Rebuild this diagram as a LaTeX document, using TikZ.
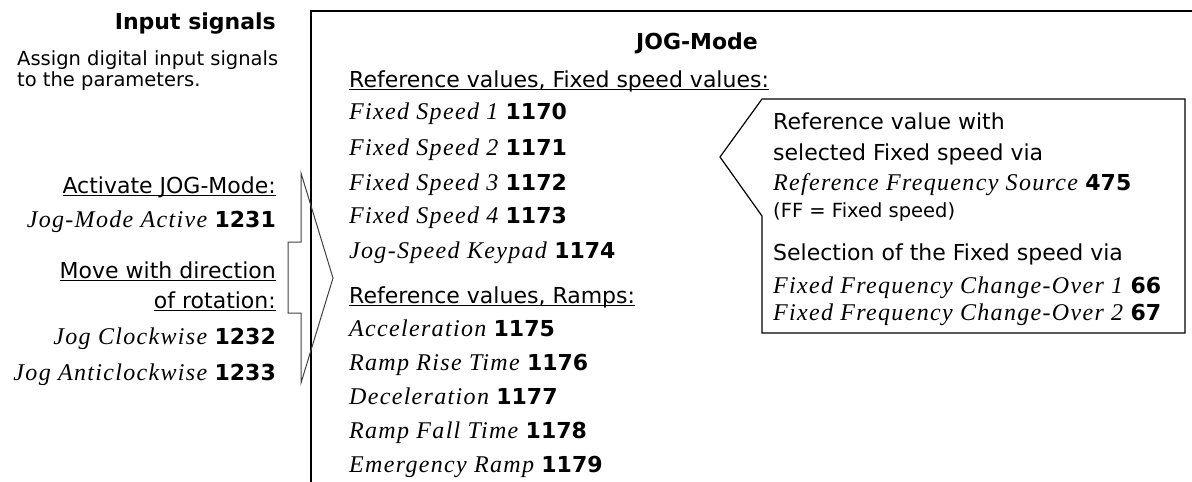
\documentclass[tikz,border=0pt]{standalone}
\usepackage{fontspec}
\setmainfont{DejaVu Sans}
\newfontfamily\serfam[LetterSpace=5.5]{Liberation Serif}
\newcommand\uln[1]{\setbox0\hbox{#1}\rlap{\rule[-3.4pt]{\wd0}{1.3pt}}\box0}
\newcommand\pv[2]{{\serfam\itshape\fontsize{24}{28}\selectfont #1}\,\,{\bfseries #2}}
\tikzset{
  txt/.style={inner sep=0pt, font=\fontsize{22}{26}\selectfont},
  small/.style={inner sep=0pt, font=\fontsize{19.5}{23}\selectfont},
  frame/.style={draw=black, line width=1.2pt},
  bracket/.style={draw=black!75, line width=1pt, line join=miter},
}
\begin{document}
\begin{tikzpicture}[x=1pt,y=-1pt]
\useasboundingbox (0,0) rectangle (1192,482);
% main box (open right and bottom)
\draw[frame] (311,482) -- (311,11) -- (1192,11);
% right callout
\draw[frame] (762,99) -- (1185,99) -- (1185,333) -- (762,333) -- (762,216) -- (720,157) -- cycle;
% left arrow bracket
\draw[bracket] (301,173) -- (333,278) -- (301,383) -- (301,313) -- (288,313) -- (288,242) -- (301,242) -- cycle;

% left column
\node[txt, anchor=base east] (insig) at (276,29) {\bfseries Input signals};
\node[small, anchor=base west] (assign1) at (17,65) {Assign digital input signals};
\node[small, anchor=base west] (assign2) at (17,86) {to the parameters.};
\node[txt, anchor=base east] (act) at (276,193) {\uln{Activate JOG-Mode:}};
\node[txt, anchor=base east] (jma) at (276,227) {\pv{Jog-Mode Active}{1231}};
\node[txt, anchor=base east] (move1) at (276,278) {\uln{Move with direction}};
\node[txt, anchor=base east] (move2) at (276,308) {\uln{of rotation:}};
\node[txt, anchor=base east] (jcw) at (276,344) {\pv{Jog Clockwise}{1232}};
\node[txt, anchor=base east] (jacw) at (276,380) {\pv{Jog Anticlockwise}{1233}};

% main column
\node[txt, anchor=base] (title) at (697,49) {\bfseries JOG-Mode};
\node[txt, anchor=base west] (rf) at (349,87) {\uln{Reference values, Fixed speed values:}};
\node[txt, anchor=base west] (f1) at (349,119) {\pv{Fixed Speed 1}{1170}};
\node[txt, anchor=base west] (f2) at (349,155) {\pv{Fixed Speed 2}{1171}};
\node[txt, anchor=base west] (f3) at (349,190) {\pv{Fixed Speed 3}{1172}};
\node[txt, anchor=base west] (f4) at (349,223) {\pv{Fixed Speed 4}{1173}};
\node[txt, anchor=base west] (jk) at (349,258) {\pv{Jog-Speed Keypad}{1174}};
\node[txt, anchor=base west] (rr) at (349,303) {\uln{Reference values, Ramps:}};
\node[txt, anchor=base west] (r1) at (349,336) {\pv{Acceleration}{1175}};
\node[txt, anchor=base west] (r2) at (349,370) {\pv{Ramp Rise Time}{1176}};
\node[txt, anchor=base west] (r3) at (349,404) {\pv{Deceleration}{1177}};
\node[txt, anchor=base west] (r4) at (349,438) {\pv{Ramp Fall Time}{1178}};
\node[txt, anchor=base west] (r5) at (349,472) {\pv{Emergency Ramp}{1179}};

% right callout text
\node[txt, anchor=base west] (c1) at (773,129) {Reference value with};
\node[txt, anchor=base west] (c2) at (773,160) {selected Fixed speed via};
\node[txt, anchor=base west] (c3) at (773,190) {\pv{Reference Frequency Source}{475}};
\node[small, anchor=base west] (c4) at (773,217) {(FF = Fixed speed)};
\node[txt, anchor=base west] (c5) at (773,260) {Selection of the Fixed speed via};
\node[txt, anchor=base west] (c6) at (773,293) {\pv{Fixed Frequency Change-Over 1}{66}};
\node[txt, anchor=base west] (c7) at (773,320) {\pv{Fixed Frequency Change-Over 2}{67}};
\end{tikzpicture}
\end{document}
